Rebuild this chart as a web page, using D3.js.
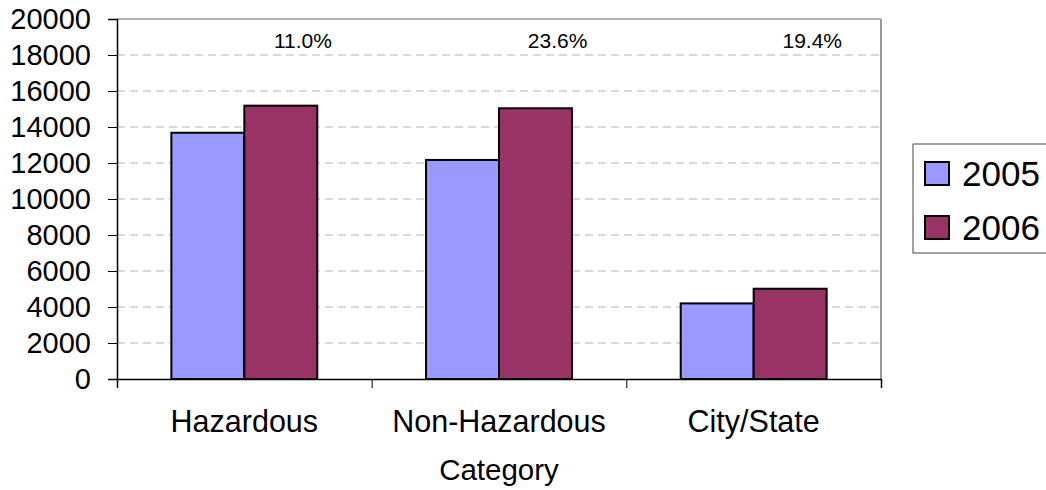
<!DOCTYPE html>
<html>
<head>
<meta charset="utf-8">
<script src="https://cdn.jsdelivr.net/npm/d3@7"></script>
<style>
  body { margin: 0; background: #fff; }
  text { font-family: Arial, "Liberation Sans", sans-serif; fill: #000; }
</style>
</head>
<body>
<div id="viz"></div>
<script>
// chart data
var categories = ['Hazardous', 'Non-Hazardous', 'City/State'];
var seriesNames = ['2005', '2006'];
var values2005 = [13680, 12170, 4200];
var values2006 = [15185, 15040, 5015];
var changeLabels = ['11.0%', '23.6%', '19.4%'];
var yTicks = [0, 2000, 4000, 6000, 8000, 10000, 12000, 14000, 16000, 18000, 20000];
var colors = ['#9999ff', '#993366'];

var width = 1046, height = 490;
// plot area edges
var plotL = 117, plotR = 881, plotT = 19, plotB = 379;

var svg = d3.select('#viz').append('svg')
  .attr('width', width)
  .attr('height', height);

var x = d3.scaleBand().domain(categories).range([plotL, plotR])
  .paddingInner(0.427).paddingOuter(0.2135);
var xs = d3.scaleBand().domain(seriesNames).range([0, x.bandwidth()]);
var y = d3.scaleLinear().domain([0, 20000]).range([plotB, plotT]);

// gridlines (dashed)
svg.append('g')
  .selectAll('line')
  .data(yTicks.filter(function (d) { return d > 0 && d < 20000; }))
  .enter().append('line')
  .attr('x1', plotL).attr('x2', plotR)
  .attr('y1', function (d) { return y(d); })
  .attr('y2', function (d) { return y(d); })
  .attr('stroke', '#b4b4b4')
  .attr('stroke-width', 1)
  .attr('stroke-dasharray', '8,5');

// plot border top/right (gray)
svg.append('line').attr('x1', plotL).attr('x2', plotR).attr('y1', plotT).attr('y2', plotT)
  .attr('stroke', '#999').attr('stroke-width', 1.5);
svg.append('line').attr('x1', plotR).attr('x2', plotR).attr('y1', plotT).attr('y2', plotB)
  .attr('stroke', '#999').attr('stroke-width', 2);

// bars
var groups = svg.append('g').selectAll('g')
  .data(categories)
  .enter().append('g')
  .attr('transform', function (d) { return 'translate(' + x(d) + ',0)'; });

groups.selectAll('rect')
  .data(function (d, i) { return [values2005[i], values2006[i]]; })
  .enter().append('rect')
  .attr('x', function (d, j) { return xs(seriesNames[j]); })
  .attr('width', xs.bandwidth())
  .attr('y', function (d) { return y(d); })
  .attr('height', function (d) { return plotB - y(d); })
  .attr('fill', function (d, j) { return colors[j]; })
  .attr('stroke', '#000')
  .attr('stroke-width', 2);

// change labels
svg.append('g').selectAll('text')
  .data(changeLabels)
  .enter().append('text')
  .attr('x', function (d, i) { return x(categories[i]) + x.bandwidth() / 2 + x.step() * 0.23; })
  .attr('y', 41)
  .attr('dy', '0.35em')
  .attr('text-anchor', 'middle')
  .style('font-size', '21px')
  .text(function (d) { return d; });

// y axis
var yAxis = svg.append('g')
  .attr('transform', 'translate(' + plotL + ',0)')
  .call(d3.axisLeft(y).tickValues(yTicks).tickSize(9).tickPadding(17).tickFormat(d3.format('d')));
yAxis.select('.domain').attr('stroke', '#000').attr('stroke-width', 1.5);
yAxis.selectAll('.tick line').attr('stroke', '#000');
yAxis.selectAll('.tick text').style('font-size', '29px').attr('font-family', null);

// x axis: ticks at category boundaries
var xb = d3.scaleLinear().domain([0, categories.length]).range([plotL, plotR]);
var xAxis = svg.append('g')
  .attr('transform', 'translate(0,' + plotB + ')')
  .call(d3.axisBottom(xb).ticks(3).tickSize(9).tickFormat(''));
xAxis.select('.domain').attr('stroke', '#000').attr('stroke-width', 1.5);
xAxis.selectAll('.tick line').attr('stroke', '#000');

// category labels
svg.append('g').selectAll('text')
  .data(categories)
  .enter().append('text')
  .attr('x', function (d) { return x(d) + x.bandwidth() / 2; })
  .attr('y', 432)
  .attr('text-anchor', 'middle')
  .style('font-size', '30.5px')
  .text(function (d) { return d; });

// axis title
svg.append('text')
  .attr('x', (plotL + plotR) / 2)
  .attr('y', 480)
  .attr('text-anchor', 'middle')
  .style('font-size', '29.5px')
  .text('Category');

// legend
var legend = svg.append('g').attr('transform', 'translate(913,144)');
legend.append('rect')
  .attr('x', 0).attr('y', 0).attr('width', 140).attr('height', 109)
  .attr('fill', '#fff').attr('stroke', '#444').attr('stroke-width', 1);
var items = legend.selectAll('.item')
  .data(seriesNames)
  .enter().append('g')
  .attr('class', 'item')
  .attr('transform', function (d, i) { return 'translate(12,' + (18 + i * 54) + ')'; });
items.append('rect')
  .attr('width', 24).attr('height', 23)
  .attr('fill', function (d, i) { return colors[i]; })
  .attr('stroke', '#000').attr('stroke-width', 2);
items.append('text')
  .attr('x', 37).attr('y', 11.5).attr('dy', '0.36em')
  .style('font-size', '35px')
  .text(function (d) { return d; });
</script>
</body>
</html>
